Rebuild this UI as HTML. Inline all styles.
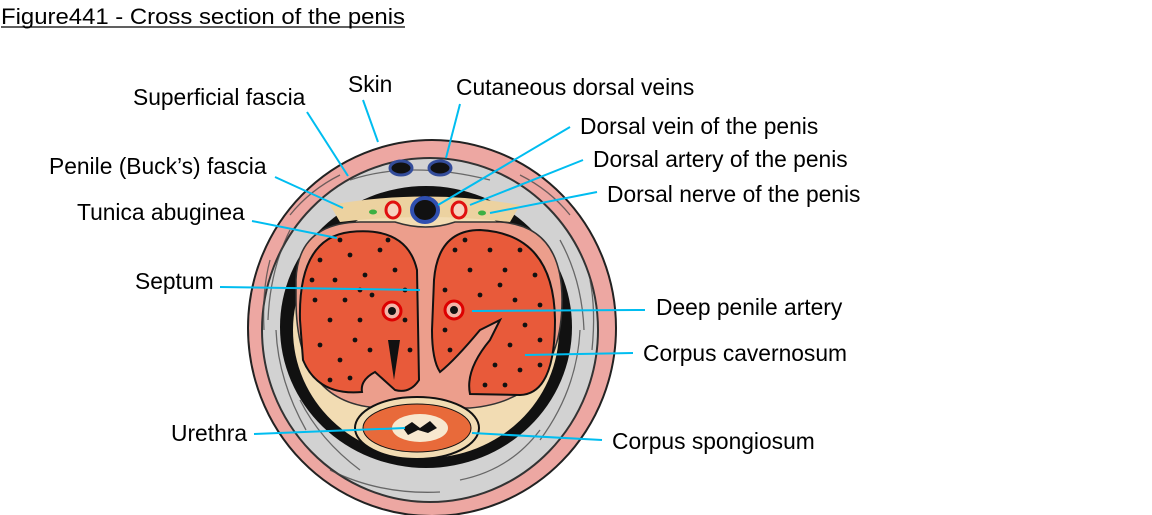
<!DOCTYPE html>
<html><head><meta charset="utf-8"><style>
html,body{margin:0;padding:0;background:#fff;width:1152px;height:515px;overflow:hidden}
svg{display:block}
text{font-family:"Liberation Sans",Arial,sans-serif;font-size:22.8px;fill:#000}
</style></head><body>
<svg width="1152" height="515" viewBox="0 0 1152 515" xmlns="http://www.w3.org/2000/svg">
<text x="1" y="24" style="font-size:22px" textLength="404" lengthAdjust="spacingAndGlyphs">Figure441 - Cross section of the penis</text>
<line x1="1" y1="27" x2="405" y2="27" stroke="#000" stroke-width="1.3"/>

<ellipse cx="432" cy="328" rx="184" ry="188" fill="#eda7a2" stroke="#222" stroke-width="2"/>
<ellipse cx="430" cy="330" rx="168" ry="172" fill="#d2d2d2" stroke="#333" stroke-width="2"/>
<g stroke="#444" stroke-width="1.3" fill="none" opacity="0.75">
<path d="M290 230 q-20 40 -22 90"/><path d="M300 400 q20 40 60 70"/><path d="M560 240 q22 40 24 90"/><path d="M540 430 q-30 40 -80 50"/>
<path d="M350 180 q60 -20 140 0"/><path d="M276 330 q2 50 30 100"/><path d="M580 330 q-3 60 -40 110"/>
<path d="M270 260 q-8 30 -6 70"/><path d="M590 280 q6 30 2 70"/><path d="M330 470 q50 25 110 22"/><path d="M340 175 q-30 15 -50 40"/><path d="M520 175 q30 15 50 40"/>
</g>
<ellipse cx="426" cy="327" rx="146" ry="141" fill="#111"/>
<ellipse cx="426" cy="330" rx="133" ry="128" fill="#f2dcb3"/>
<path d="M330 205 Q426 188 520 205 L510 222 Q426 212 340 222 Z" fill="#ecd2a0"/>
<path d="M296 280 Q298 223 360 222 L395 222 Q426 232 455 222 L500 222 Q562 226 562 300 Q562 400 470 408 L430 408 Q426 403 420 408 L380 408 Q296 404 296 300 Z" fill="#ec9e8c" stroke="#333" stroke-width="1.5"/>
<path d="M300 320 Q298 238 350 232 Q407 226 417 270 L419 380 Q410 394 395 390 L375 372 Q360 380 362 392 Q318 396 303 360 Z" fill="#e85a3a" stroke="#111" stroke-width="2"/>
<path d="M434 280 Q438 230 480 230 Q554 234 555 320 Q555 394 520 395 L470 394 Q465 370 490 340 L500 320 L480 330 Q455 360 440 372 Q432 360 432 330 Z" fill="#e85a3a" stroke="#111" stroke-width="2"/>
<path d="M388 340 L394 380 L400 340 Z" fill="#111"/>
<g fill="#111">
<circle cx="320" cy="260" r="2.4"/><circle cx="335" cy="280" r="2.4"/><circle cx="350" cy="255" r="2.4"/><circle cx="365" cy="275" r="2.4"/><circle cx="380" cy="250" r="2.4"/><circle cx="395" cy="270" r="2.4"/><circle cx="405" cy="290" r="2.4"/><circle cx="315" cy="300" r="2.4"/><circle cx="330" cy="320" r="2.4"/><circle cx="345" cy="300" r="2.4"/><circle cx="360" cy="320" r="2.4"/><circle cx="372" cy="295" r="2.4"/><circle cx="320" cy="345" r="2.4"/><circle cx="340" cy="360" r="2.4"/><circle cx="355" cy="340" r="2.4"/><circle cx="370" cy="350" r="2.4"/><circle cx="330" cy="380" r="2.4"/><circle cx="350" cy="378" r="2.4"/><circle cx="405" cy="320" r="2.4"/><circle cx="410" cy="350" r="2.4"/><circle cx="388" cy="240" r="2.4"/><circle cx="312" cy="280" r="2.4"/><circle cx="340" cy="240" r="2.4"/><circle cx="360" cy="290" r="2.4"/>
<circle cx="455" cy="250" r="2.4"/><circle cx="470" cy="270" r="2.4"/><circle cx="490" cy="250" r="2.4"/><circle cx="505" cy="270" r="2.4"/><circle cx="520" cy="250" r="2.4"/><circle cx="535" cy="275" r="2.4"/><circle cx="445" cy="290" r="2.4"/><circle cx="480" cy="295" r="2.4"/><circle cx="515" cy="300" r="2.4"/><circle cx="540" cy="305" r="2.4"/><circle cx="525" cy="325" r="2.4"/><circle cx="540" cy="340" r="2.4"/><circle cx="510" cy="345" r="2.4"/><circle cx="495" cy="365" r="2.4"/><circle cx="520" cy="370" r="2.4"/><circle cx="540" cy="365" r="2.4"/><circle cx="485" cy="385" r="2.4"/><circle cx="505" cy="385" r="2.4"/><circle cx="445" cy="330" r="2.4"/><circle cx="450" cy="350" r="2.4"/><circle cx="465" cy="240" r="2.4"/><circle cx="500" cy="285" r="2.4"/>
</g>
<circle cx="392" cy="311" r="9" fill="#f2b5a8" stroke="#d00" stroke-width="3"/><circle cx="392" cy="311" r="4" fill="#111"/>
<circle cx="454" cy="310" r="9" fill="#f2b5a8" stroke="#d00" stroke-width="3"/><circle cx="454" cy="310" r="4" fill="#111"/>
<ellipse cx="401" cy="168" rx="11" ry="7" fill="#111" stroke="#334c9a" stroke-width="3"/>
<ellipse cx="440" cy="168" rx="11" ry="7" fill="#111" stroke="#334c9a" stroke-width="3"/>
<ellipse cx="425" cy="210" rx="13" ry="12" fill="#111" stroke="#2f4fb0" stroke-width="4"/>
<ellipse cx="393" cy="210" rx="7" ry="8" fill="#f6d2c0" stroke="#e01010" stroke-width="3"/>
<ellipse cx="459" cy="210" rx="7" ry="8" fill="#f6d2c0" stroke="#e01010" stroke-width="3"/>
<ellipse cx="373" cy="212" rx="4" ry="2.5" fill="#3cb043"/>
<ellipse cx="482" cy="213" rx="4" ry="2.5" fill="#3cb043"/>
<ellipse cx="417" cy="428" rx="62" ry="31" fill="#f2dcb3" stroke="#111" stroke-width="2"/>
<ellipse cx="417" cy="428" rx="54" ry="24" fill="#e86a3a" stroke="#111" stroke-width="1"/>
<ellipse cx="420" cy="428" rx="28" ry="14" fill="#f7e8cf"/>
<path d="M403 428 L412 422 L420 428 L430 421 L437 428 L428 433 L418 430 L408 435 Z" fill="#111"/>

<g stroke="#00bdf0" stroke-width="2" fill="none">
<line x1="307" y1="112" x2="348" y2="176"/>
<line x1="363" y1="100" x2="378" y2="142"/>
<line x1="460" y1="104" x2="446" y2="158"/>
<line x1="570" y1="127" x2="438" y2="205"/>
<line x1="583" y1="160" x2="470" y2="205"/>
<line x1="597" y1="192" x2="490" y2="213"/>
<line x1="275" y1="177" x2="343" y2="208"/>
<line x1="252" y1="221" x2="337" y2="238"/>
<line x1="220" y1="287" x2="420" y2="290"/>
<line x1="645" y1="310" x2="472" y2="311"/>
<line x1="633" y1="353" x2="525" y2="355"/>
<line x1="254" y1="434" x2="405" y2="428"/>
<line x1="602" y1="440" x2="472" y2="433"/>
</g>
<text x="133" y="105">Superficial fascia</text>
<text x="348" y="92">Skin</text>
<text x="456" y="95">Cutaneous dorsal veins</text>
<text x="580" y="134">Dorsal vein of the penis</text>
<text x="593" y="167">Dorsal artery of the penis</text>
<text x="607" y="202">Dorsal nerve of the penis</text>
<text x="49" y="174">Penile (Buck’s) fascia</text>
<text x="77" y="220">Tunica abuginea</text>
<text x="135" y="289">Septum</text>
<text x="656" y="315">Deep penile artery</text>
<text x="643" y="361">Corpus cavernosum</text>
<text x="171" y="441">Urethra</text>
<text x="612" y="449">Corpus spongiosum</text>
</svg>
</body></html>
